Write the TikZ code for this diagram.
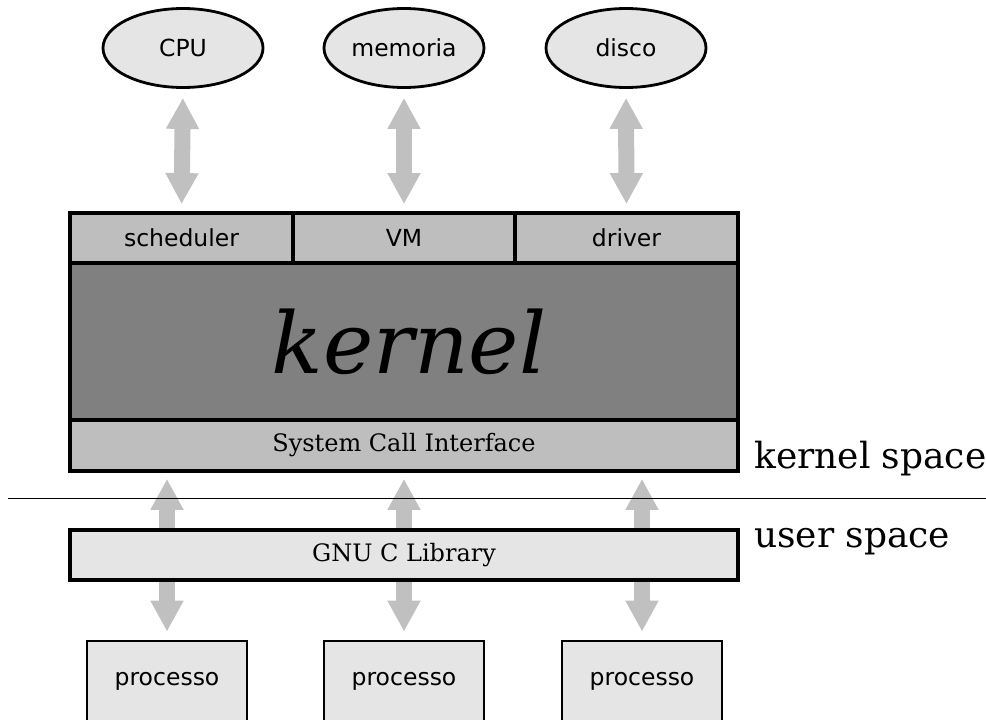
\documentclass[tikz,border=0pt]{standalone}
\usepackage{fontspec}
\setmainfont{DejaVu Serif}
\setsansfont{DejaVu Sans}
\usetikzlibrary{arrows.meta,backgrounds,shapes.geometric}
\definecolor{lightfill}{HTML}{E5E5E5}
\definecolor{midfill}{HTML}{BEBEBE}
\definecolor{darkfill}{HTML}{808080}
\definecolor{arrowgray}{HTML}{C0C0C0}
\begin{document}
\begin{tikzpicture}[x=1pt,y=-1pt,
  res/.style={ellipse,draw,line width=2.8pt,fill=lightfill,minimum width=160pt,minimum height=79pt,inner sep=0pt,font=\sffamily\fontsize{23.5}{28}\selectfont},
  topcell/.style={rectangle,draw,line width=3.8pt,fill=midfill,minimum height=50pt,inner sep=0pt,font=\sffamily\fontsize{23.5}{28}\selectfont},
  wide/.style={rectangle,draw,line width=3.8pt,minimum width=668pt,inner sep=0pt},
  proc/.style={rectangle,draw,line width=2.8pt,fill=lightfill,minimum width=160pt,minimum height=80pt,inner sep=0pt,font=\sffamily\fontsize{23.5}{28}\selectfont},
  spacelabel/.style={anchor=base west,inner sep=0pt,font=\fontsize{36}{42}\selectfont},
  biarrow/.style={draw=arrowgray,line width=16pt,{Triangle[width=31pt,length=31pt]}-{Triangle[width=31pt,length=31pt]}}
]
\useasboundingbox (0,0) rectangle (986,720);
% resources
\node[res] (cpu) at (183,48) {CPU};
\node[res] (mem) at (404,48) {memoria};
\node[res] (disk) at (626,48) {disco};
% kernel block
\node[topcell,minimum width=223pt] (sched) at (181.5,238) {scheduler};
\node[topcell,minimum width=222pt] (vm) at (404,238) {VM};
\node[topcell,minimum width=223pt] (drv) at (626.5,238) {driver};
\node[wide,fill=darkfill,minimum height=157pt,font=\itshape\fontsize{85}{96}\selectfont,text depth=0pt] (kern) at (404,341.5) {\hspace*{10pt}kernel};
\node[wide,fill=midfill,minimum height=51pt,font=\fontsize{24}{28}\selectfont] (sci) at (404,445.5) {System Call Interface};
% processes
\node[proc] (p1) at (167,681) {processo};
\node[proc] (p2) at (404,681) {processo};
\node[proc] (p3) at (642,681) {processo};
% user / kernel separator
\coordinate (sepL) at (8,498.5);
\coordinate (sepR) at (986,498.5);
\node[spacelabel] (ks) at (754,468) {kernel space};
\node[spacelabel] (us) at (754,547) {user space};
\begin{pgfonlayer}{background}
\fill[white] (0,0) rectangle (986,720);
\draw[biarrow,shorten <=9pt,shorten >=7pt] (cpu.south) -- (sched.north);
\draw[biarrow,shorten <=9pt,shorten >=7pt] (mem.south) -- (vm.north);
\draw[biarrow,shorten <=9pt,shorten >=7pt] (disk.south) -- (drv.north);
\draw[biarrow,shorten <=6pt,shorten >=8pt] (p1.north |- sci.south) -- (p1.north);
\draw[biarrow,shorten <=6pt,shorten >=8pt] (p2.north |- sci.south) -- (p2.north);
\draw[biarrow,shorten <=6pt,shorten >=8pt] (p3.north |- sci.south) -- (p3.north);
\end{pgfonlayer}
\draw[line width=1.3pt] (sepL) -- (sepR);
\node[wide,fill=lightfill,minimum height=50pt,font=\fontsize{24}{28}\selectfont] (gnu) at (404,555) {GNU C Library};
\end{tikzpicture}
\end{document}
